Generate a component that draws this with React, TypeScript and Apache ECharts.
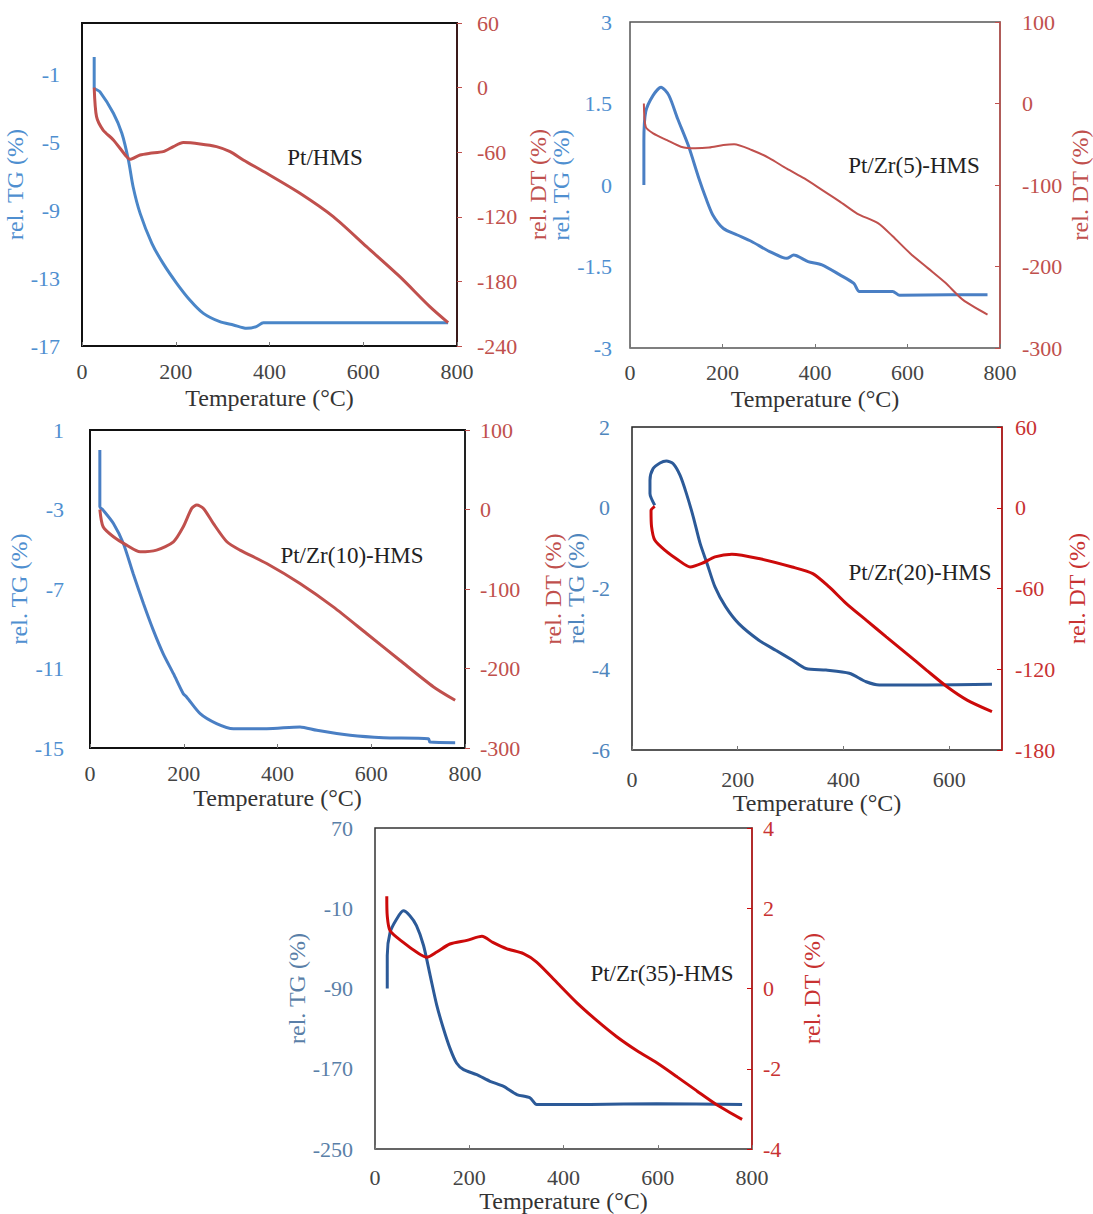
import React, { useEffect, useRef } from "react";
import * as echarts from "echarts";

// ---------- data ----------
const panelNames = ["Pt/HMS", "Pt/Zr(5)-HMS", "Pt/Zr(10)-HMS", "Pt/Zr(20)-HMS", "Pt/Zr(35)-HMS"];
const xMax = [800, 800, 800, 700, 800];
const xInterval = 200;
// [min, max, interval]
const tgRange = [[-17, 2, 4], [-3, 3, 1.5], [-15, 1, 4], [-6, 2, 2], [-250, 70, 80]];
const dtRange = [[-240, 60, 60], [-300, 100, 100], [-300, 100, 100], [-180, 60, 60], [-4, 4, 2]];

const tg1 = [[26, 0], [26, -1.8], [38, -2.04], [67, -3.31], [85, -4.49], [99, -6.06], [109, -7.63], [124, -9.2], [149, -10.96], [173, -12.14], [202, -13.31], [230, -14.29], [259, -15.08], [294, -15.57], [323, -15.76], [351, -15.96], [372, -15.86], [387, -15.63], [781, -15.63]];
const dt1 = [[26, 0], [31, -27], [45, -39.4], [67, -48.6], [95, -64.1], [102, -66.6], [124, -62.6], [145, -61], [173, -59.5], [195, -54.8], [216, -51.1], [252, -52.3], [287, -54.8], [316, -59.5], [344, -67.2], [394, -79.6], [465, -98.1], [536, -119.8], [607, -147.7], [678, -175.6], [742, -203.4], [781, -218.3]];

const tg2 = [[30, 0], [30, 0.8], [34, 1.35], [50, 1.65], [67, 1.8], [84, 1.65], [103, 1.22], [126, 0.73], [149, 0.12], [164, -0.24], [179, -0.55], [202, -0.8], [232, -0.92], [263, -1.04], [301, -1.22], [339, -1.35], [354, -1.29], [385, -1.41], [415, -1.47], [453, -1.65], [484, -1.81], [496, -1.96], [568, -1.96], [583, -2.03], [690, -2.02], [773, -2.02]];
const dt2 = [[30, 0], [34, -28.6], [50, -36.7], [80, -45], [110, -53], [141, -55], [171, -54], [202, -51], [225, -50], [263, -57], [301, -67], [339, -80], [377, -92], [415, -106], [453, -120], [491, -135], [537, -147], [568, -163], [606, -184], [644, -202], [682, -220], [720, -241], [773, -259]];

const tg3 = [[21, 0], [21, -2.86], [28, -3.03], [50, -3.7], [71, -4.7], [92, -6.22], [114, -7.73], [135, -9.07], [156, -10.25], [178, -11.26], [199, -12.27], [206, -12.43], [235, -13.27], [270, -13.77], [306, -14.03], [377, -14.03], [448, -13.94], [484, -14.11], [555, -14.36], [626, -14.48], [722, -14.53], [725, -14.7], [779, -14.73]];
const dt3 = [[21, 0], [28, -21.7], [50, -34.3], [78, -44.8], [107, -53.2], [142, -51.1], [178, -40.6], [199, -21.7], [217, 1.4], [228, 5.6], [242, 1.4], [263, -17.5], [292, -40.6], [320, -51.1], [377, -67.9], [448, -93.1], [519, -122.5], [590, -156], [661, -189.6], [733, -223.2], [779, -240]];

const tg4 = [[43, 0.06], [34, 0.35], [34, 0.68], [40, 0.97], [53, 1.11], [65, 1.16], [78, 1.09], [91, 0.8], [103, 0.35], [116, -0.23], [129, -0.89], [142, -1.38], [157, -1.96], [177, -2.45], [202, -2.87], [240, -3.28], [272, -3.53], [303, -3.77], [329, -3.98], [367, -4.02], [411, -4.1], [443, -4.31], [468, -4.39], [557, -4.39], [681, -4.37]];
const dt4 = [[43, 1], [36, -2], [37, -14], [43, -24], [62, -31.5], [88, -39], [110, -44], [132, -41.4], [157, -36.5], [189, -34.5], [240, -37.7], [303, -44], [342, -48.9], [373, -58.8], [405, -71], [443, -83.5], [481, -95.9], [519, -108.2], [557, -120.6], [596, -133], [634, -142.9], [681, -151.5]];

const tg5 = [[26, -90], [26, -57], [32, -34], [46, -20.7], [60, -12.5], [74, -17.4], [88, -27.3], [103, -47.1], [117, -76.8], [131, -106.5], [145, -129.6], [159, -149.4], [173, -164.2], [188, -170.8], [216, -175.8], [244, -182.4], [272, -187.3], [301, -195.6], [329, -198.9], [343, -205.5], [457, -205.5], [598, -204.8], [779, -205.5]];
const dt5 = [[25, 2.3], [26, 1.81], [32, 1.44], [60, 1.15], [88, 0.91], [110, 0.78], [131, 0.91], [159, 1.11], [195, 1.2], [227, 1.3], [250, 1.15], [280, 0.99], [315, 0.87], [343, 0.66], [386, 0.15], [428, -0.35], [471, -0.8], [513, -1.2], [556, -1.55], [598, -1.85], [641, -2.2], [683, -2.55], [726, -2.9], [779, -3.26]];

const tgSeries = [tg1, tg2, tg3, tg4, tg5];
const dtSeries = [dt1, dt2, dt3, dt4, dt5];

const xName = "Temperature (°C)";
const tgName = "rel. TG (%)";
const dtName = "rel. DT (%)";

// ---------- layout & style ----------
const FONT = "'Liberation Serif', 'Times New Roman', serif";
const layout = [
  { left: 82, top: 23, width: 375, height: 323, label: [325, 157], xGap: 40, xMargin: 14, tgGap: 49, tgMargin: 22, dtGap: 69, dtMargin: 20 },
  { left: 630, top: 22, width: 370, height: 326, label: [914, 165], xGap: 39, xMargin: 13, tgGap: 48, tgMargin: 18, dtGap: 68, dtMargin: 22 },
  { left: 90, top: 430, width: 375, height: 318, label: [352, 555], xGap: 38, xMargin: 14, tgGap: 51, tgMargin: 26, dtGap: 76, dtMargin: 15 },
  { left: 632, top: 427, width: 370, height: 323, label: [920, 572], xGap: 34, xMargin: 18, tgGap: 43, tgMargin: 22, dtGap: 63, dtMargin: 13 },
  { left: 375, top: 828, width: 377, height: 324, label: [662, 973], xGap: 36, xMargin: 17, tgGap: 55, tgMargin: 22, dtGap: 48, dtMargin: 11 },
];
const styles = [
  { blue: "#4a86c8", red: "#c0504d", tgLabel: "#4f8fd0", dtLabel: "#c0504d", border: "#111", borderW: 2, rightLine: "#3a1a1a", tickInside: false, wBlue: 3, wRed: 3 },
  { blue: "#4a7fc4", red: "#c0504d", tgLabel: "#4f8fd0", dtLabel: "#c0504d", border: "#555", borderW: 1.5, rightLine: "#c0504d", tickInside: true, wBlue: 3, wRed: 2 },
  { blue: "#4a7fc4", red: "#c0504d", tgLabel: "#4f8fd0", dtLabel: "#c0504d", border: "#111", borderW: 2, rightLine: "#222", tickInside: false, wBlue: 3, wRed: 3 },
  { blue: "#2c5a98", red: "#cc0a0a", tgLabel: "#4f86bd", dtLabel: "#c83232", border: "#222", borderW: 1.5, rightLine: "#cc1a1a", tickInside: true, wBlue: 3, wRed: 3 },
  { blue: "#2c5a98", red: "#cc0a0a", tgLabel: "#5a7fa8", dtLabel: "#c83232", border: "#333", borderW: 1.5, rightLine: "#cc1a1a", tickInside: true, wBlue: 3, wRed: 3 },
];

function buildOption() {
  const grid: any[] = [];
  const xAxis: any[] = [];
  const yAxis: any[] = [];
  const series: any[] = [];
  const graphic: any[] = [];
  for (let i = 0; i < 5; i++) {
    const L = layout[i];
    const S = styles[i];
    grid.push({ left: L.left, top: L.top, width: L.width, height: L.height, show: true, borderColor: S.border, borderWidth: S.borderW, backgroundColor: "transparent" });
    xAxis.push({
      type: "value", gridIndex: i, position: "bottom", min: 0, max: xMax[i], interval: xInterval,
      name: xName, nameLocation: "middle", nameGap: L.xGap,
      nameTextStyle: { fontFamily: FONT, fontSize: 24, color: "#333" },
      axisLine: { show: false, onZero: false },
      axisTick: { show: true, inside: true, length: 4, lineStyle: { color: "#777" } },
      splitLine: { show: false },
      axisLabel: { fontFamily: FONT, fontSize: 22, color: "#444", margin: L.xMargin, showMaxLabel: xMax[i] % xInterval === 0 },
    });
    yAxis.push({
      type: "value", gridIndex: i, position: "left", min: tgRange[i][0], max: tgRange[i][1], interval: tgRange[i][2],
      name: tgName, nameLocation: "middle", nameRotate: 90, nameGap: L.tgGap,
      nameTextStyle: { fontFamily: FONT, fontSize: 24, color: S.tgLabel },
      axisLine: { show: false, onZero: false }, axisTick: { show: false }, splitLine: { show: false },
      axisLabel: { fontFamily: FONT, fontSize: 22, color: S.tgLabel, margin: L.tgMargin, showMaxLabel: i !== 0 },
    });
    yAxis.push({
      type: "value", gridIndex: i, position: "right", min: dtRange[i][0], max: dtRange[i][1], interval: dtRange[i][2],
      name: dtName, nameLocation: "middle", nameRotate: 90, nameGap: L.dtGap,
      nameTextStyle: { fontFamily: FONT, fontSize: 24, color: S.dtLabel },
      axisLine: { show: true, onZero: false, lineStyle: { color: S.rightLine, width: S.borderW } },
      axisTick: { show: true, inside: S.tickInside, length: 5, lineStyle: { color: S.red } },
      splitLine: { show: false },
      axisLabel: { fontFamily: FONT, fontSize: 22, color: S.dtLabel, margin: L.dtMargin },
    });
    series.push({
      type: "line", xAxisIndex: i, yAxisIndex: 2 * i, data: tgSeries[i], showSymbol: false, symbol: "none",
      smooth: 0.25, lineStyle: { color: S.blue, width: S.wBlue }, itemStyle: { color: S.blue }, silent: true, z: 3,
    });
    series.push({
      type: "line", xAxisIndex: i, yAxisIndex: 2 * i + 1, data: dtSeries[i], showSymbol: false, symbol: "none",
      smooth: 0.25, lineStyle: { color: S.red, width: S.wRed }, itemStyle: { color: S.red }, silent: true, z: 4,
    });
    graphic.push({
      type: "text", x: L.label[0], y: L.label[1], z: 10,
      style: { text: panelNames[i], fontFamily: FONT, fontSize: 23, fill: "#222", textAlign: "center", textVerticalAlign: "middle" },
    });
  }
  return { animation: false, backgroundColor: "#fff", grid, xAxis, yAxis, series, graphic };
}

export default function App() {
  const ref = useRef<HTMLDivElement>(null);
  useEffect(() => {
    document.body.style.margin = "0";
    if (!ref.current) return;
    const chart = echarts.init(ref.current, undefined, { renderer: "svg" });
    chart.setOption(buildOption() as any);
    return () => chart.dispose();
  }, []);
  return <div ref={ref} style={{ width: 1093, height: 1214 }} />;
}
